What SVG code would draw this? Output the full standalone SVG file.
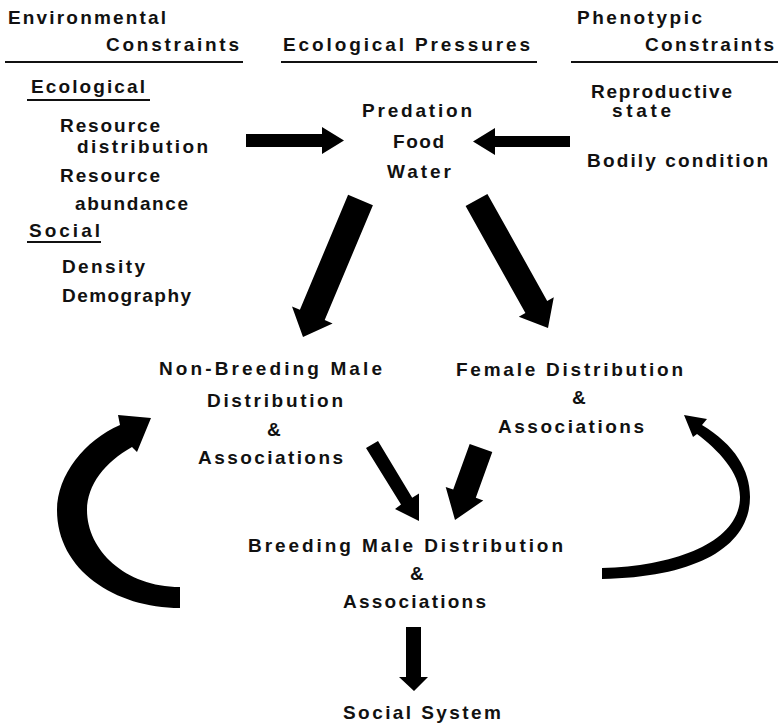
<svg xmlns="http://www.w3.org/2000/svg" width="783" height="724" viewBox="0 0 783 724">
<style>
  text { font-family: "Liberation Sans", Arial, sans-serif; font-size: 19px; font-weight: bold; fill: #111; }
  .rule { stroke: #111; stroke-width: 2; }
  .arrow { fill: #000; stroke: none; }
</style>
<rect width="783" height="724" fill="#fff"/>

<g id="header-environmental">
  <text x="8" y="24" textLength="158" lengthAdjust="spacing">Environmental</text>
  <text x="106" y="51" textLength="133" lengthAdjust="spacing">Constraints</text>
  <line class="rule" x1="5" y1="62" x2="243" y2="62"/>
</g>
<g id="header-ecological-pressures">
  <text x="283" y="51" textLength="247" lengthAdjust="spacing">Ecological Pressures</text>
  <line class="rule" x1="281" y1="62" x2="537" y2="62"/>
</g>
<g id="header-phenotypic">
  <text x="577" y="24" textLength="125" lengthAdjust="spacing">Phenotypic</text>
  <text x="645" y="51" textLength="129" lengthAdjust="spacing">Constraints</text>
  <line class="rule" x1="571" y1="62" x2="778" y2="62"/>
</g>

<g id="environmental-ecological">
  <text x="31" y="93" textLength="114" lengthAdjust="spacing">Ecological</text>
  <line class="rule" x1="27" y1="100" x2="150" y2="100"/>
  <text x="60" y="132" textLength="100" lengthAdjust="spacing">Resource</text>
  <text x="77" y="153" textLength="131" lengthAdjust="spacing">distribution</text>
  <text x="60" y="182" textLength="100" lengthAdjust="spacing">Resource</text>
  <text x="75" y="210" textLength="113" lengthAdjust="spacing">abundance</text>
</g>
<g id="environmental-social">
  <text x="29" y="237" textLength="71" lengthAdjust="spacing">Social</text>
  <line class="rule" x1="27" y1="242" x2="101" y2="242"/>
  <text x="62" y="273" textLength="83" lengthAdjust="spacing">Density</text>
  <text x="62" y="302" textLength="129" lengthAdjust="spacing">Demography</text>
</g>

<g id="ecological-pressures">
  <text x="362" y="117" textLength="110" lengthAdjust="spacing">Predation</text>
  <text x="393" y="148" textLength="51" lengthAdjust="spacing">Food</text>
  <text x="387" y="178" textLength="64" lengthAdjust="spacing">Water</text>
</g>

<g id="phenotypic-constraints">
  <text x="591" y="98" textLength="141" lengthAdjust="spacing">Reproductive</text>
  <text x="612" y="117" textLength="59" lengthAdjust="spacing">state</text>
  <text x="587" y="167" textLength="181" lengthAdjust="spacing">Bodily condition</text>
</g>

<g id="non-breeding-male">
  <text x="159" y="375" textLength="223" lengthAdjust="spacing">Non-Breeding Male</text>
  <text x="207" y="407" textLength="136" lengthAdjust="spacing">Distribution</text>
  <text x="267" y="436">&amp;</text>
  <text x="198" y="464" textLength="145" lengthAdjust="spacing">Associations</text>
</g>

<g id="female">
  <text x="456" y="376" textLength="227" lengthAdjust="spacing">Female Distribution</text>
  <text x="572" y="404">&amp;</text>
  <text x="498" y="433" textLength="146" lengthAdjust="spacing">Associations</text>
</g>

<g id="breeding-male">
  <text x="248" y="552" textLength="315" lengthAdjust="spacing">Breeding Male Distribution</text>
  <text x="410" y="580">&amp;</text>
  <text x="343" y="608" textLength="143" lengthAdjust="spacing">Associations</text>
</g>

<g id="social-system">
  <text x="343" y="719" textLength="158" lengthAdjust="spacing">Social System</text>
</g>

<g id="connectors">
  <!-- environmental -> pressures -->
  <polygon class="arrow" points="246,134 322,134 322,127 344,140.5 322,154 322,147 246,147"/>
  <!-- phenotypic -> pressures -->
  <polygon class="arrow" points="570,136 495,136 495,128 473,141.5 495,155 495,147 570,147"/>
  <!-- pressures -> non-breeding -->
  <polygon class="arrow" points="348.1,194.8 372.9,205.2 324.7,320.1 332.6,323.4 303,337 292,306.4 299.9,309.7"/>
  <!-- pressures -> female -->
  <polygon class="arrow" points="465.6,206.1 487.4,193.9 547.2,300.9 553.8,297.2 548,328 518.8,316.8 525.4,313.1"/>
  <!-- non-breeding -> breeding -->
  <polygon class="arrow" points="366,448 378,441 412.2,497.8 419,493.5 419,521 395,509 401,504.6"/>
  <!-- female -> breeding -->
  <polygon class="arrow" points="469.7,443.9 492.3,452.1 475.8,497.8 483.3,500.5 455,520 445.7,486.9 453.2,489.6"/>
  <!-- breeding -> social system -->
  <polygon class="arrow" points="406,627 421,627 421,677 428,677 414,691 399,677 406,677"/>
  <!-- breeding -> non-breeding (curved) -->
  <path class="arrow" d="M180,608 C115,608 57,570 57,510 C57,475 85,440 120,425 L118,415 L151,418 L137,452 L132,447 C105,462 87,485 87,510 C87,550 125,587 180,587 Z"/>
  <!-- breeding -> female (curved) -->
  <path class="arrow" d="M602,579 C700,577 750,545 750,497 C750,470 735,445 702,425 L707,419 L684,415 L693,437 L697,434 C718,450 740,472 740,497 C740,540 680,566 602,568 Z"/>
</g>
</svg>
